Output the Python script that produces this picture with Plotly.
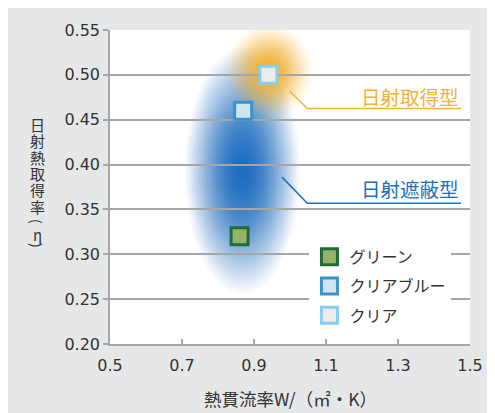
import math
import plotly.graph_objects as go

# ---- data ----
series_names = ["グリーン", "クリアブルー", "クリア"]
u_values = [0.86, 0.87, 0.94]          # 熱貫流率 W/(㎡・K)
eta_values = [0.32, 0.46, 0.50]        # 日射熱取得率 η
fill_colors = ["#94b366", "#cfe6f0", "#ececec"]
line_colors = ["#1f6b3a", "#3a93cc", "#86cff0"]

x_ticks = [0.5, 0.7, 0.9, 1.1, 1.3, 1.5]
y_ticks = [0.20, 0.25, 0.30, 0.35, 0.40, 0.45, 0.50, 0.55]

# glow regions (center x, center y, semi-axis x, semi-axis y)
blue_glow = (0.868, 0.393, 0.16, 0.138)
orange_glow = (0.942, 0.504, 0.12, 0.053)

FONT = "Noto Sans CJK JP"
NUMFONT = "DejaVu Sans"
GRAY = "#e6e7e8"
TXT = "#333333"

fig = go.Figure()

for i, (name, xv, yv, fc, lc) in enumerate(zip(series_names, u_values, eta_values, fill_colors, line_colors)):
    fig.add_trace(go.Scatter(
        x=[xv], y=[yv], mode="markers", name=name, legendgroup=f"g{i}",
        marker=dict(symbol="square", size=17, color=fc, line=dict(color=lc, width=3)),
    ))

shapes = []


def glow(params, rgb, n, peak, k_exp, taper):
    """soft radial glow built from stacked translucent ellipses"""
    cx, cy, rx, ry = params
    out = []
    prev_a = 0.0
    for k in range(n, 0, -1):
        f = k / n
        r_in = (k - 1) / n
        target = peak * math.exp(-k_exp * r_in ** 2) * (1 - r_in ** taper)
        o = 1 - (1 - target) / (1 - prev_a)
        prev_a = target
        out.append(dict(type="circle", xref="x", yref="y",
                        x0=cx - rx * f, x1=cx + rx * f, y0=cy - ry * f, y1=cy + ry * f,
                        fillcolor=f"rgba({rgb},{max(o, 0):.4f})", line=dict(width=0), layer="below"))
    return out


shapes += glow(blue_glow, "22,106,192", 44, 0.94, 1.6, 6)
shapes += glow(orange_glow, "244,176,45", 30, 0.95, 2.0, 6)

ORANGE = "#f0b33c"
BLUE = "#1a72bd"
shapes.append(dict(type="path", xref="x", yref="y",
                   path="M 0.999 0.482 L 1.048 0.4624 L 1.475 0.4624",
                   line=dict(color=ORANGE, width=1.5), layer="above"))
shapes.append(dict(type="path", xref="x", yref="y",
                   path="M 0.978 0.386 L 1.048 0.357 L 1.475 0.357",
                   line=dict(color=BLUE, width=1.5), layer="above"))

annotations = [
    dict(x=1.475, y=0.4755, xref="x", yref="y", text="日射取得型", showarrow=False,
         xanchor="right", yanchor="middle", font=dict(family=FONT, size=19.5, color=ORANGE)),
    dict(x=1.475, y=0.3735, xref="x", yref="y", text="日射遮蔽型", showarrow=False,
         xanchor="right", yanchor="middle", font=dict(family=FONT, size=19.5, color=BLUE)),
    dict(x=(290 - 110) / 360, y=(344 - 398) / 314, xref="paper", yref="paper", text="熱貫流率W/（㎡・K）",
         showarrow=False, xanchor="center", yanchor="middle",
         font=dict(family=FONT, size=17.5, color=TXT)),
]

# vertical y-axis title, one character per row (page px centres)
ytitle_chars = ["日", "射", "熱", "取", "得", "率", "(", "η", ")"]
ytitle_px = [124, 140.5, 157, 173, 189.5, 206, 221, 234, 245]
ytitle_rot = [0, 0, 0, 0, 0, 0, 90, 0, 90]
ytitle_size = [15, 15, 15, 15, 15, 15, 14, 15, 14]
for ch, py, rot, sz in zip(ytitle_chars, ytitle_px, ytitle_rot, ytitle_size):
    annotations.append(dict(x=(37 - 110) / 360, y=(344 - py) / 314, xref="paper", yref="paper",
                            text=ch, showarrow=False, xanchor="center", yanchor="middle",
                            textangle=rot,
                            font=dict(family=FONT, size=sz, color=TXT)))

# page has an 8px body margin, so the figure is 8px smaller than the window
fig.update_layout(
    width=487, height=405,
    margin=dict(l=102, r=25, t=22, b=69),
    paper_bgcolor=GRAY, plot_bgcolor="white",
    font=dict(family=FONT, size=16, color=TXT),
    showlegend=True,
    legend=dict(x=0.554, y=0.332, xanchor="left", yanchor="top", bgcolor="white",
                font=dict(family=FONT, size=16, color=TXT), itemsizing="trace",
                tracegroupgap=5.5),
    shapes=shapes,
    annotations=annotations,
    xaxis=dict(range=[0.5, 1.5], tickvals=x_ticks, ticktext=[f"{v:.1f}" for v in x_ticks],
               showgrid=False, zeroline=False, showline=True, linecolor="#a6a6a6", linewidth=1.5,
               ticks="inside", ticklen=5, tickcolor="#a6a6a6", tickwidth=1.5,
               ticklabelstandoff=6,
               tickfont=dict(family=NUMFONT, size=16, color=TXT), fixedrange=True),
    yaxis=dict(range=[0.2, 0.55], tickvals=y_ticks, ticktext=[f"{v:.2f}" for v in y_ticks],
               showgrid=True, gridcolor="#a6a6a6", gridwidth=1.5, zeroline=False,
               showline=True, linecolor="#a6a6a6", linewidth=1.5,
               ticks="outside", ticklen=5, tickcolor="#a6a6a6", tickwidth=1.5,
               tickfont=dict(family=NUMFONT, size=16, color=TXT), fixedrange=True),
)

fig.write_html("out.html")
